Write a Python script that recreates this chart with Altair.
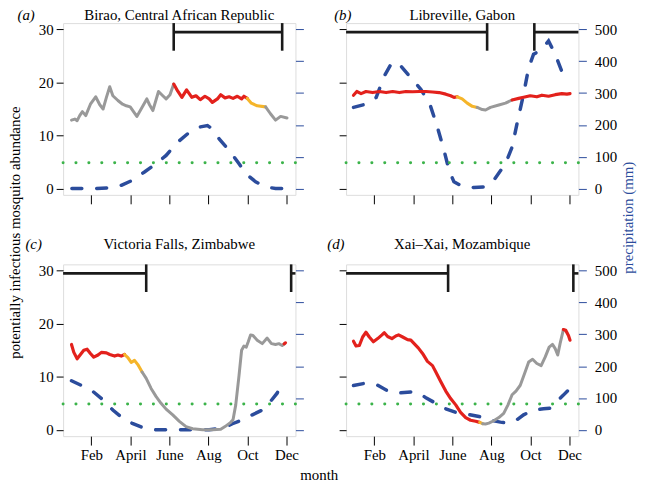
import altair as alt
import pandas as pd

FONT = "Liberation Serif"

# ---------------- shared axis data ----------------
month_ticks = [2, 4, 6, 8, 10, 12]
month_labels = ["Feb", "April", "June", "Aug", "Oct", "Dec"]
abund_ticks = [0, 5, 10, 15, 20, 25, 30]
precip_ticks = [0, 100, 200, 300, 400, 500]
XMIN, XMAX = 0.55, 12.46
YMIN, YMAX = -1.2, 31.2
PMIN, PMAX = -20, 520
threshold = 4.85
bracket_level = 29.5
bracket_tick_low = 27.8

titles = ["Birao, Central African Republic", "Libreville, Gabon",
          "Victoria Falls, Zimbabwe", "Xai\u2013Xai, Mozambique"]
letters = ["(a)", "(b)", "(c)", "(d)"]

# ---------------- panel (a) ----------------
a_month = [0.98, 1.15, 1.27, 1.4, 1.54, 1.71, 1.95, 2.22, 2.43, 2.6, 2.77, 2.94, 3.1, 3.36, 3.6, 3.79, 3.99,
           4.16, 4.33, 4.55, 4.84, 4.98, 5.15, 5.44, 5.66, 5.83, 6.03, 6.22, 6.42, 6.64, 6.88, 7.15, 7.36, 7.58,
           7.82, 8.04, 8.2, 8.46, 8.63, 8.85, 9.06, 9.26, 9.48, 9.7, 9.82, 9.99, 10.2, 10.5, 10.93, 11.18, 11.44,
           11.7, 12.03]
a_abund = [12.9, 13.1, 12.8, 13.75, 14.5, 13.75, 15.9, 17.3, 15.8, 15.0, 17.2, 19.2, 17.5, 16.6, 15.9, 15.6, 15.4,
           14.5, 13.6, 15.0, 16.9, 15.8, 14.7, 18.3, 17.5, 16.9, 17.7, 19.7, 18.4, 17.2, 18.6, 17.2, 17.5, 16.75,
           17.4, 16.9, 16.25, 16.9, 17.7, 17.1, 17.3, 17.0, 17.4, 16.9, 17.4, 17.0, 16.1, 15.6, 15.4, 14.1, 12.9,
           13.6, 13.3]
a_breaks = [(6.22, "unsuitable"), (9.99, "suitable"), (10.93, "marginal"), (99, "unsuitable")]
a_pmonth = [1.0, 1.57, 2.26, 2.85, 3.53, 4.04, 4.72, 5.32, 5.83, 6.34, 6.93, 7.53, 7.95, 8.2, 8.55, 9.06, 9.57,
            9.91, 10.42, 10.93, 11.44, 12.03]
a_precip = [0, 0, 0, 2, 10, 24, 52, 78, 104, 141, 172, 193, 198, 187, 156, 120, 78, 47, 21, 5, 0, 0]
a_spans = [(6.22, 11.78)]
a_season_ticks = [6.22, 11.78]

# ---------------- panel (b) ----------------
b_month = [0.93, 1.1, 1.32, 1.57, 1.91, 2.26, 2.6, 2.94, 3.28, 3.62, 3.96, 4.3, 4.64, 4.98, 5.32, 5.66, 5.91, 6.08,
           6.25, 6.5, 6.76, 7.02, 7.27, 7.53, 7.7, 7.95, 8.38, 8.72, 9.06, 9.4, 9.65, 9.99, 10.33, 10.59, 10.93,
           11.27, 11.61, 11.87, 12.03]
b_abund = [17.6, 18.3, 17.9, 18.3, 18.1, 18.3, 18.1, 18.3, 18.1, 18.3, 18.25, 18.3, 18.3, 18.2, 18.1, 17.8, 17.5,
           17.2, 17.3, 16.9, 16.1, 15.5, 15.3, 14.9, 14.8, 15.3, 15.75, 16.1, 16.7, 17.0, 17.2, 17.5, 17.3, 17.6,
           17.4, 17.7, 17.9, 17.8, 17.9]
b_breaks = [(6.25, "suitable"), (7.27, "marginal"), (9.06, "unsuitable"), (99, "suitable")]
b_pmonth = [0.93, 1.49, 2.09, 2.51, 2.9, 3.28, 3.79, 4.38, 4.84, 5.23, 5.57, 5.83, 6.08, 6.5, 7.1, 7.61, 8.12,
            8.72, 9.06, 9.31, 9.65, 9.91, 10.16, 10.59, 10.93, 11.27, 11.7]
b_precip = [255, 264, 286, 354, 396, 391, 354, 312, 266, 193, 120, 57, 21, 7, 3, 5, 26, 78, 130, 203, 297, 380,
            422, 437, 464, 422, 354]
b_spans = [(XMIN, 7.78), (10.2, XMAX)]
b_season_ticks = [7.78, 10.2]

# ---------------- panel (c) ----------------
c_month = [0.98, 1.1, 1.27, 1.44, 1.61, 1.78, 1.95, 2.12, 2.34, 2.51, 2.77, 2.94, 3.19, 3.36, 3.53, 3.7, 3.87,
           4.04, 4.21, 4.38, 4.6, 4.81, 5.06, 5.32, 5.57, 5.83, 6.17, 6.51, 6.85, 7.19, 7.7, 8.21, 8.63, 8.85, 9.14,
           9.26, 9.4, 9.57, 9.7, 9.82, 9.94, 10.04, 10.16, 10.28, 10.5, 10.76, 11.01, 11.23, 11.44, 11.61, 11.78,
           11.88, 11.95]
c_abund = [16.1, 14.6, 13.4, 14.2, 15.0, 15.2, 14.4, 13.7, 14.1, 14.6, 14.5, 14.2, 13.9, 14.1, 13.9, 14.2, 13.6,
           12.7, 13.1, 12.3, 10.9, 9.7, 7.8, 6.25, 5.0, 3.9, 2.8, 1.6, 0.6, 0.2, 0.0, 0.0, 0.1, 0.6, 1.4, 1.9, 4.7,
           10.3, 15.0, 15.8, 15.6, 16.6, 17.9, 17.8, 16.9, 16.25, 17.3, 16.25, 16.1, 16.25, 15.9, 16.2, 16.4]
c_breaks = [(3.7, "suitable"), (4.6, "marginal"), (11.88, "unsuitable"), (99, "suitable")]
c_pmonth = [0.98, 1.57, 2.09, 2.6, 3.1, 3.62, 4.13, 4.64, 5.32, 6.0, 6.68, 7.36, 8.04, 8.72, 9.23, 9.74, 10.25,
            10.76, 11.18, 11.52, 11.74]
c_precip = [154, 137, 120, 94, 62, 36, 19, 7, 0, 0, 0, 0, 0, 5, 19, 31, 47, 62, 89, 115, 143]
c_spans = [(XMIN, 4.81), (12.24, XMAX)]
c_season_ticks = [4.81, 12.24]

# ---------------- panel (d) ----------------
d_month = [0.93, 1.06, 1.23, 1.4, 1.57, 1.74, 1.95, 2.17, 2.39, 2.51, 2.68, 2.9, 3.1, 3.24, 3.45, 3.7, 3.87, 4.04,
           4.26, 4.47, 4.72, 4.98, 5.15, 5.4, 5.66, 5.91, 6.17, 6.42, 6.68, 6.93, 7.19, 7.4, 7.55, 7.7, 7.87, 8.12,
           8.38, 8.63, 8.85, 9.06, 9.26, 9.48, 9.7, 9.91, 10.11, 10.33, 10.55, 10.76, 10.96, 11.13, 11.27, 11.4,
           11.52, 11.69, 11.81, 11.95, 12.03]
d_abund = [16.7, 15.8, 15.9, 17.5, 18.4, 17.5, 16.6, 17.2, 17.9, 18.3, 17.6, 17.2, 17.7, 17.9, 17.5, 17.0, 16.9,
           16.25, 15.4, 14.4, 12.9, 12.1, 10.9, 9.1, 7.3, 5.9, 4.7, 3.3, 2.3, 1.8, 1.6, 1.4, 1.15, 1.1, 1.25, 1.7,
           2.3, 3.1, 4.7, 6.6, 7.3, 8.4, 10.6, 12.8, 13.3, 12.5, 12.1, 13.75, 15.6, 16.1, 15.3, 14.1, 16.25, 18.9,
           18.75, 17.8, 16.9]
d_breaks = [(7.4, "suitable"), (7.55, "marginal"), (11.69, "unsuitable"), (99, "suitable")]
d_pmonth = [0.93, 1.49, 2.09, 2.6, 3.1, 3.7, 4.13, 4.64, 5.15, 5.66, 6.17, 6.76, 7.36, 7.87, 8.46, 8.89, 9.23,
            9.65, 10.16, 10.67, 11.01, 11.35, 11.69, 12.03]
d_precip = [139, 146, 143, 125, 115, 118, 120, 101, 83, 66, 55, 49, 42, 31, 24, 21, 28, 47, 62, 66, 68, 89, 109,
            130]
d_spans = [(XMIN, 5.78), (12.2, XMAX)]
d_season_ticks = [5.78, 12.2]

# ---------------- styling ----------------
CLASSES = ["suitable", "marginal", "unsuitable"]
CLASS_COLORS = ["#e3211c", "#f5b52a", "#999999"]
CLASS_WIDTHS = [3.2, 3.0, 2.3]
BLUE = "#2b4c9c"
GREEN = "#3bb34a"
W, H = 234, 173
FS = 15

label_expr = " : ".join(f"datum.value == {v} ? '{t}'" for v, t in zip(month_ticks, month_labels)) + " : ''"


def segments(months, values, breaks):
    rows = []
    start = months[0]
    for k, (end, cls) in enumerate(breaks):
        for m, v in zip(months, values):
            if start <= m <= end:
                rows.append({"month": m, "value": v, "seg": k, "cls": cls})
        start = end
    return pd.DataFrame(rows)


def panel(idx, months, values, breaks, pmonths, precip, spans, sticks, show_x, show_left, show_right, extras):
    xs = alt.Scale(domain=[XMIN, XMAX], nice=False, zero=False)
    ys = alt.Scale(domain=[YMIN, YMAX], nice=False, zero=False)
    ps = alt.Scale(domain=[PMIN, PMAX], nice=False, zero=False)
    x_axis = alt.Axis(values=month_ticks, labelExpr=label_expr, labels=show_x, title=None, tickSize=9,
                      labelPadding=3, domain=False, grid=False, tickColor="black", labelFlush=False,
                      labelFont=FONT, labelFontSize=FS, labelColor="black")
    y_axis = alt.Axis(values=abund_ticks, labels=show_left, title=None, tickSize=7, labelPadding=3,
                      domain=False, grid=False, tickColor="black", orient="left",
                      labelFont=FONT, labelFontSize=FS, labelColor="black")
    p_axis = alt.Axis(values=precip_ticks, labels=show_right, title=None, tickSize=8, labelPadding=8,
                      domain=False, grid=False, tickColor=BLUE, orient="right",
                      labelFont=FONT, labelFontSize=FS, labelColor="black")

    def X(f):
        return alt.X(f, scale=xs, axis=x_axis)

    def Y(f):
        return alt.Y(f, scale=ys, axis=y_axis)

    seg_df = segments(months, values, breaks)
    abund = alt.Chart(seg_df).mark_line(strokeCap="round", strokeJoin="round").encode(
        x=X("month:Q"), y=Y("value:Q"), detail="seg:N", order="month:Q",
        color=alt.Color("cls:N", scale=alt.Scale(domain=CLASSES, range=CLASS_COLORS), legend=None),
        strokeWidth=alt.StrokeWidth("cls:N", scale=alt.Scale(domain=CLASSES, range=CLASS_WIDTHS), legend=None),
    )
    thr = alt.Chart(pd.DataFrame({"thr": [threshold]})).mark_rule(
        color=GREEN, strokeWidth=3, strokeDash=[0.1, 12.9], strokeCap="round").encode(y=Y("thr:Q"))
    span_df = pd.DataFrame({"start": [s for s, e in spans], "end": [e for s, e in spans]})
    span = alt.Chart(span_df).mark_rule(color="#1a1a1a", strokeWidth=2.6).encode(
        x=X("start:Q"), x2="end:Q", y=alt.YDatum(bracket_level))
    tick_df = pd.DataFrame({"m": sticks})
    ticks = alt.Chart(tick_df).mark_rule(color="#1a1a1a", strokeWidth=2.6).encode(
        x=X("m:Q"), y=alt.value(0), y2=alt.Y2Datum(bracket_tick_low))
    t_df = pd.DataFrame({"t": [titles[idx]]})
    ttl = alt.Chart(t_df).mark_text(font=FONT, fontSize=FS, baseline="alphabetic", align="center",
                                    color="black").encode(x=alt.value(W / 2), y=alt.value(extras["ty"]), text="t:N")
    l_df = pd.DataFrame({"t": [letters[idx]]})
    let = alt.Chart(l_df).mark_text(font=FONT, fontSize=FS, fontStyle="italic", baseline="alphabetic",
                                    align="left", color="black").encode(
        x=alt.value(extras["lx"]), y=alt.value(extras["ty"]), text="t:N")
    layers = [thr, abund, span, ticks, ttl, let]
    for txt in extras.get("texts", []):
        tdf = pd.DataFrame({"t": [txt["text"]]})
        layers.append(alt.Chart(tdf).mark_text(font=FONT, fontSize=FS, baseline="middle", align="center",
                                               angle=txt.get("angle", 0), color=txt.get("color", "black")).encode(
            x=alt.value(txt["x"]), y=alt.value(txt["y"]), text="t:N"))
    inner = alt.layer(*layers)
    pre_df = pd.DataFrame({"month": pmonths, "precip": precip})
    pre = alt.Chart(pre_df).mark_line(color=BLUE, strokeWidth=3.5, strokeDash=[10, 15], strokeCap="round").encode(
        x=X("month:Q"), y=alt.Y("precip:Q", scale=ps, axis=p_axis))
    return alt.layer(pre, inner).resolve_scale(y="independent").properties(width=W, height=H)


pa = panel(0, a_month, a_abund, a_breaks, a_pmonth, a_precip, a_spans, a_season_ticks,
           False, True, False, {"ty": -3, "lx": -46})
pb = panel(1, b_month, b_abund, b_breaks, b_pmonth, b_precip, b_spans, b_season_ticks,
           False, False, True, {"ty": -3, "lx": -12,
                                "texts": [{"text": "precipitation (mm)", "x": 284, "y": 196, "angle": 270,
                                           "color": BLUE}]})
pc = panel(2, c_month, c_abund, c_breaks, c_pmonth, c_precip, c_spans, c_season_ticks,
           True, True, False, {"ty": -15, "lx": -38,
                               "texts": [{"text": "potentially infectious mosquito abundance", "x": -48, "y": -32,
                                          "angle": 270}]})
pd_ = panel(3, d_month, d_abund, d_breaks, d_pmonth, d_precip, d_spans, d_season_ticks,
            True, False, True, {"ty": -15, "lx": -19,
                                "texts": [{"text": "month", "x": -27, "y": 212}]})

chart = alt.concat(pa, pb, pc, pd_, columns=2, spacing={"row": 70, "column": 51}, bounds="flush").properties(
    padding={"left": -0.5, "top": -2.5, "right": 0, "bottom": 0}
).configure_view(stroke="#808080", strokeWidth=1).configure(font=FONT)

chart.save("out.html", embed_options={"renderer": "svg", "actions": False})
